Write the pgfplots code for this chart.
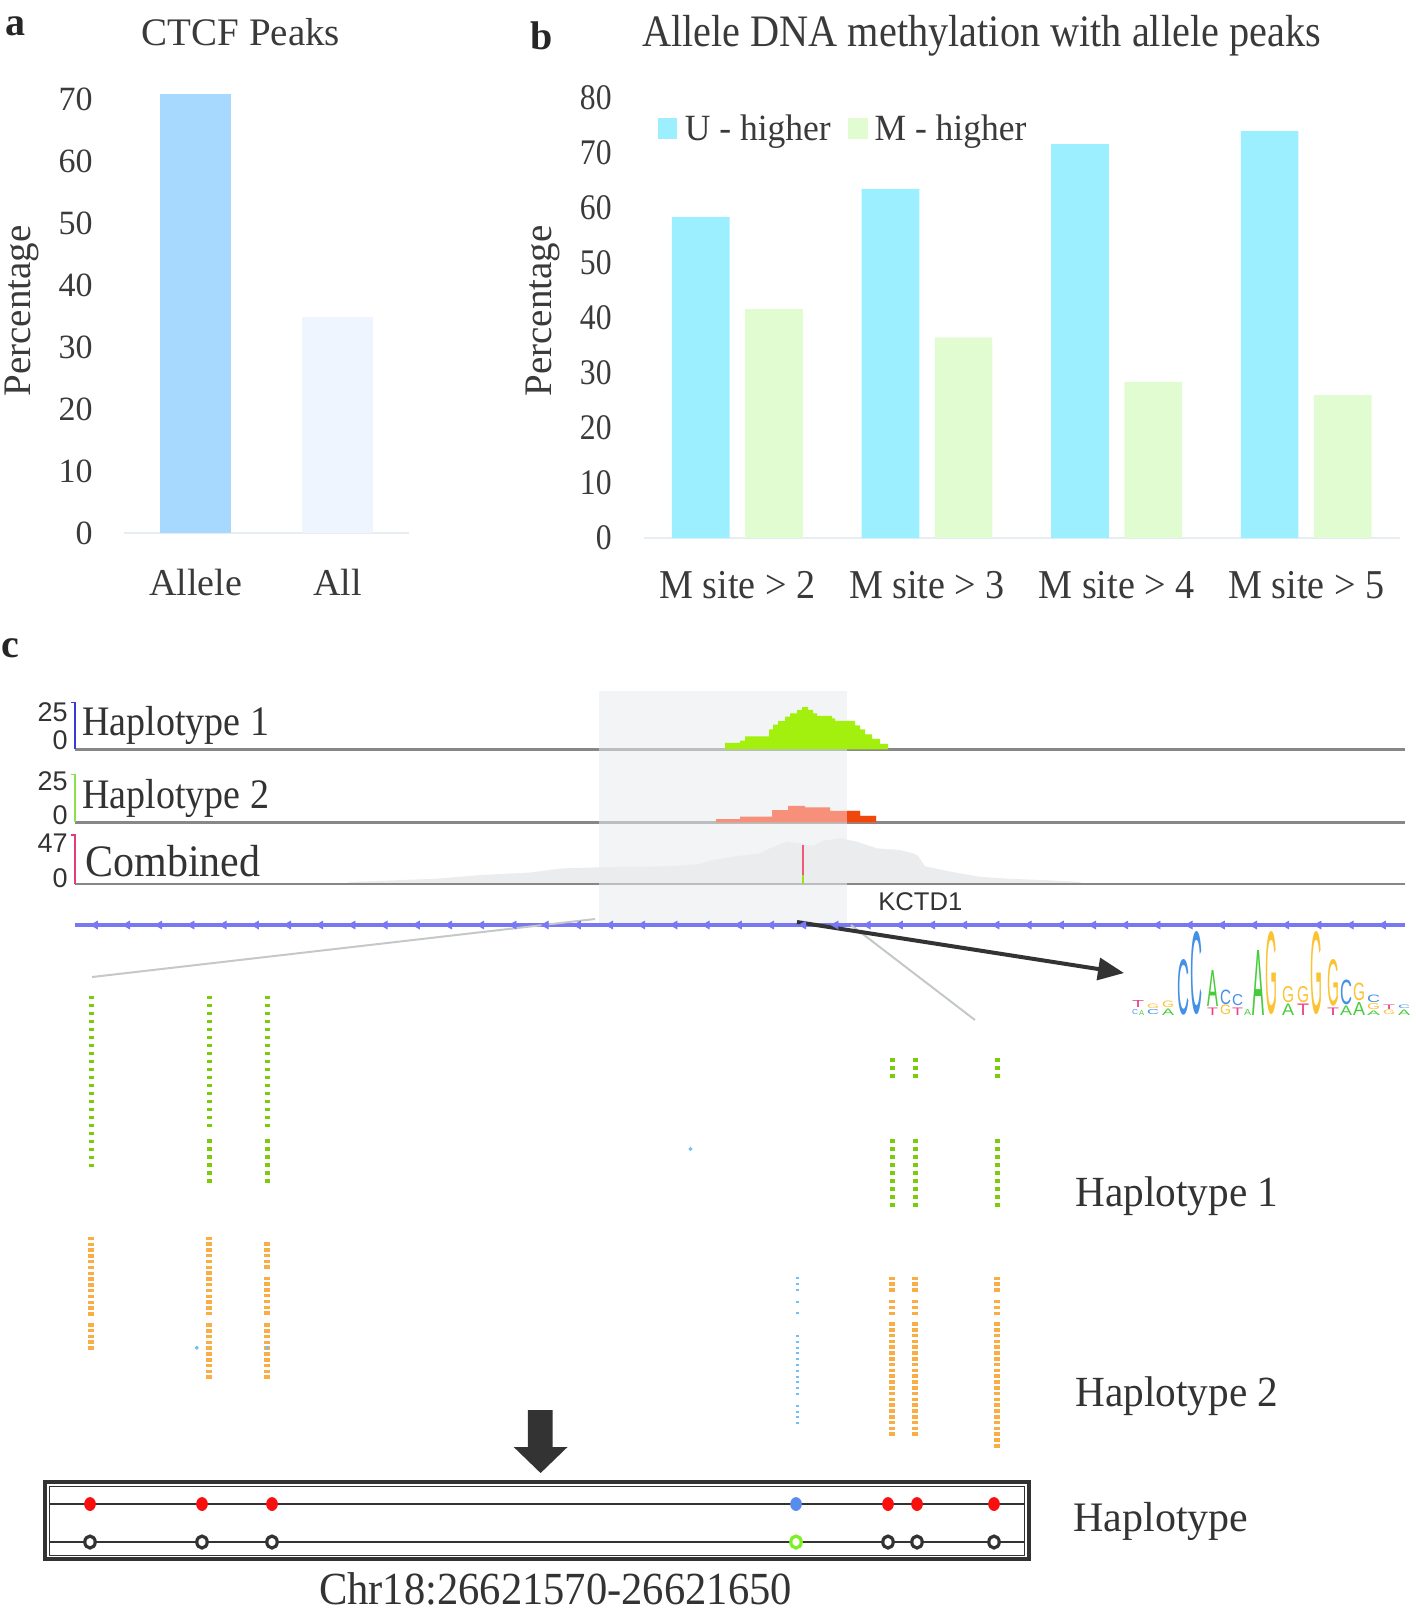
\documentclass[border=0pt]{standalone}
\usepackage{fontspec}
\setmainfont{Liberation Serif}
\newfontfamily\arial{Liberation Sans}
\usepackage{graphicx}
\usepackage{pgfplots}
\pgfplotsset{compat=1.18}
\usetikzlibrary{arrows.meta}
\definecolor{txt}{HTML}{3A3A3A}
\definecolor{allele}{HTML}{A6D9FD}
\definecolor{allc}{HTML}{EEF5FE}
\definecolor{ucol}{HTML}{9BEFFE}
\definecolor{mcol}{HTML}{E2FCD2}
\definecolor{axl}{HTML}{E6EDF3}
\definecolor{hl}{HTML}{F3F4F5}
\definecolor{basec}{HTML}{878787}
\definecolor{basel}{HTML}{BBBEBE}
\definecolor{hgreen}{HTML}{A3F00F}
\definecolor{salmon}{HTML}{F6907A}
\definecolor{redor}{HTML}{F0480C}
\definecolor{combg}{HTML}{EBECED}
\definecolor{genec}{HTML}{7878F2}
\definecolor{dgreen}{HTML}{7ACC0A}
\definecolor{dorange}{HTML}{F8AE45}
\definecolor{dblue}{HTML}{72BFF5}
\definecolor{dark}{HTML}{333333}
\definecolor{lgrey}{HTML}{C4C8C8}
\definecolor{hred}{HTML}{F81010}
\definecolor{hblue}{HTML}{5A8CEE}
\definecolor{hgr}{HTML}{7CF020}
\definecolor{tone}{HTML}{3A3AD8}
\definecolor{ttwo}{HTML}{8CE050}
\definecolor{tthree}{HTML}{E23C7C}
\definecolor{snpr}{HTML}{EE5A78}
\definecolor{snpg}{HTML}{9CE020}
\definecolor{lA}{HTML}{46CC3A}
\definecolor{lC}{HTML}{4490E4}
\definecolor{lG}{HTML}{FBC232}
\definecolor{lT}{HTML}{EA4286}
\newcommand\cond[2]{\scalebox{#1}[1]{#2}}
\newcommand\fs[1]{\fontsize{#1}{#1}\selectfont}
\newcommand\LL[6]{\node[anchor=south west, inner sep=0pt, outer sep=0pt] at (#1,#2) {\resizebox{\dimexpr #3pt/2\relax}{\dimexpr #4pt/2\relax}{\color{#5}\arial #6}};}
\pgfplotsset{
  gdot/.style={draw=dgreen, line width=2.5pt, dash pattern=on 1.65pt off 2.35pt},
  odot/.style={draw=dorange, line width=3pt, dash pattern=on 1.75pt off 1.15pt},
  bdot/.style={draw=dblue, line width=1.5pt, dash pattern=on 1pt off 1.9pt},
}
\begin{document}
\begin{tikzpicture}[x=0.5pt, y=-0.5pt]
\path[use as bounding box] (0,0) rectangle (1415,1616);

% ---------- overlay axis in pixel units (panel c lower part) ----------
\begin{axis}[at={(0pt,0pt)}, anchor=north west, scale only axis, width=707.5pt, height=808pt,
  xmin=0, xmax=1415, ymin=0, ymax=1616, y dir=reverse, hide axis, clip=false]
\fill[hl] (axis cs:599,691) rectangle (axis cs:847,924);
% gene line
\addplot[genec, line width=1.6pt] coordinates {(75,925)(1405,925)};
\addplot[only marks, mark=triangle*, mark size=2.2pt, color=genec, mark options={rotate=90}] coordinates {
(95.2,925)(127.4,925)(159.6,925)(191.8,925)(224,925)(256.2,925)(288.4,925)(320.6,925)(352.8,925)(385,925)(417.2,925)(449.4,925)(481.6,925)(513.8,925)(546,925)(578.2,925)(610.4,925)(642.6,925)(674.8,925)(707,925)(739.2,925)(771.4,925)(803.6,925)(835.8,925)(868,925)(900.2,925)(932.4,925)(964.6,925)(996.8,925)(1029,925)(1061.2,925)(1093.4,925)(1125.6,925)(1157.8,925)(1190,925)(1222.2,925)(1254.4,925)(1286.6,925)(1318.8,925)(1351,925)(1383.2,925)};
% zoom lines and arrows
\draw[lgrey, line width=1pt] (axis cs:595,919) -- (axis cs:92,977);
\draw[lgrey, line width=1pt] (axis cs:851,925) -- (axis cs:975,1020);
\draw[dark, line width=2pt, -{Triangle[length=13pt,width=11pt]}] (axis cs:797,922) -- (axis cs:1124,973);
\fill[dark] (axis cs:527.8,1410) -- (axis cs:552.6,1410) -- (axis cs:552.6,1447) -- (axis cs:567.5,1447) -- (axis cs:540.6,1473) -- (axis cs:513.7,1447) -- (axis cs:527.8,1447) -- cycle;
% green reads
\addplot[gdot] coordinates {(91,995.65)(91,1166.95)};
\addplot[gdot] coordinates {(209,995.65)(209,1126.95)};
\addplot[gdot] coordinates {(209,1139.35)(209,1182.65)};
\addplot[gdot] coordinates {(267,995.65)(267,1126.95)};
\addplot[gdot] coordinates {(267,1139.35)(267,1182.65)};
\addplot[gdot] coordinates {(892,1058.35)(892,1077.65)};
\addplot[gdot] coordinates {(892,1139.35)(892,1206.65)};
\addplot[gdot] coordinates {(915,1058.35)(915,1077.65)};
\addplot[gdot] coordinates {(915,1139.35)(915,1206.65)};
\addplot[gdot] coordinates {(997,1058.35)(997,1077.65)};
\addplot[gdot] coordinates {(997,1139.35)(997,1206.65)};
% orange reads
\addplot[odot] coordinates {(91,1236.75)(91,1315.65)};
\addplot[odot] coordinates {(91,1323)(91,1349.7)};
\addplot[odot] coordinates {(209,1236.55)(209,1315.45)};
\addplot[odot] coordinates {(209,1323.25)(209,1378.95)};
\addplot[odot] coordinates {(267,1242.25)(267,1268.95)};
\addplot[odot] coordinates {(267,1276.55)(267,1314.85)};
\addplot[odot] coordinates {(267,1323.25)(267,1378.95)};
\addplot[odot] coordinates {(892,1276.55)(892,1291.65)};
\addplot[odot] coordinates {(892,1299.95)(892,1315.05)};
\addplot[odot] coordinates {(892,1322.25)(892,1435.95)};
\addplot[odot] coordinates {(915,1276.55)(915,1291.65)};
\addplot[odot] coordinates {(915,1299.95)(915,1315.05)};
\addplot[odot] coordinates {(915,1322.25)(915,1435.95)};
\addplot[odot] coordinates {(997,1276.55)(997,1291.65)};
\addplot[odot] coordinates {(997,1299.95)(997,1315.05)};
\addplot[odot] coordinates {(997,1322.25)(997,1447.55)};
% blue reads
\addplot[bdot] coordinates {(797,1277.3)(797,1290.9)};
\addplot[bdot] coordinates {(797,1300.7)(797,1302.7)};
\addplot[bdot] coordinates {(797,1312.3)(797,1314.3)};
\addplot[bdot] coordinates {(797,1335)(797,1395)};
\addplot[bdot] coordinates {(797,1404.7)(797,1424.1)};
\addplot[only marks, mark=*, mark size=0.8pt, color=dblue] coordinates {(690.5,1149)(196.7,1347.7)(267.3,1347.7)};
% haplotype box
\draw[dark, line width=1.9pt] (axis cs:45,1482) rectangle (axis cs:1029,1559);
\draw[dark, line width=0.5pt] (axis cs:49.5,1486) rectangle (axis cs:1024.5,1555);
\addplot[dark, line width=1pt] coordinates {(49.5,1504)(1024.5,1504)};
\addplot[dark, line width=1pt] coordinates {(49.5,1542)(1024.5,1542)};
\addplot[only marks, mark=*, mark size=2.7pt, color=hred, mark options={yscale=1.2}] coordinates {(90,1504)(202,1504)(272,1504)(888,1504)(917,1504)(994,1504)};
\addplot[only marks, mark=*, mark size=2.7pt, color=hblue, mark options={yscale=1.2}] coordinates {(796,1504)};
\addplot[only marks, mark=*, mark size=2.6pt, mark options={draw=dark, fill=white, line width=1.6pt, yscale=1.15}] coordinates {(90,1542)(202,1542)(272,1542)(888,1542)(917,1542)(994,1542)};
\addplot[only marks, mark=*, mark size=2.6pt, mark options={draw=hgr, fill=white, line width=1.6pt, yscale=1.15}] coordinates {(796,1542)};
\end{axis}

% ---------- track 1 ----------
\begin{axis}[at={(37.5pt,-374.65pt)}, anchor=south west, scale only axis, width=665pt, height=23.3pt,
  xmin=75, xmax=1405, ymin=0, ymax=25, hide axis, clip=false]
\addplot[basec, line width=1.2pt] coordinates {(75,0)(1405,0)};
\addplot[basel, line width=1.2pt] coordinates {(599,0)(847,0)};
\addplot[fill=hgreen, draw=none, const plot] coordinates {(720,0)(725,3.4)(740,4.7)(745,7.0)(769,10.7)(773,13.3)(778,15.1)(785,17.5)(790,19.3)(797,21.2)(802,22.6)(808,21.2)(813,19.3)(817,17.9)(832,16.6)(835,15.3)(855,12.9)(860,10.7)(865,8.0)(872,5.6)(880,2.9)(888,2.9)} \closedcycle;
\addplot[tone, line width=0.6pt] coordinates {(71,25)(75,25)(75,0)};
\end{axis}
% ---------- track 2 ----------
\begin{axis}[at={(37.5pt,-411.15pt)}, anchor=south west, scale only axis, width=665pt, height=24pt,
  xmin=75, xmax=1405, ymin=0, ymax=25, hide axis, clip=false]
\addplot[basec, line width=1.2pt] coordinates {(75,0)(1405,0)};
\addplot[basel, line width=1.2pt] coordinates {(599,0)(847,0)};
\addplot[fill=salmon, draw=none, const plot] coordinates {(716,1.6)(740,2.9)(772,6.4)(788,8.5)(805,7.8)(830,6.0)(860,3.3)(876,3.3)} \closedcycle;
\addplot[fill=redor, draw=none, const plot] coordinates {(847,6.0)(860,3.3)(876,3.3)} \closedcycle;
\addplot[ttwo, line width=0.6pt] coordinates {(71,25)(75,25)(75,0)};
\end{axis}
% ---------- track 3 ----------
\begin{axis}[at={(37.5pt,-442pt)}, anchor=south west, scale only axis, width=665pt, height=24.5pt,
  xmin=75, xmax=1405, ymin=0, ymax=47, hide axis, clip=false]
\addplot[fill=combg, draw=none] coordinates {(345,0)(350,2)(435,5)(480,8.6)(530,11)(562,15)(600,16)(635,16.6)(670,17)(700,19)(713,23)(733,26.2)(760,29.4)(770,34.2)(787,40.6)(800,39)(813,36.4)(823,41.5)(840,43.8)(857,40.6)(877,34.2)(900,32.6)(913,29.4)(918,27)(925,17)(950,12)(979,7)(1010,5)(1043,3.8)(1080,2)(1083,0)} \closedcycle;
\addplot[basec, line width=1.2pt] coordinates {(75,0)(1405,0)};
\addplot[basel, line width=1.2pt] coordinates {(599,0)(847,0)};
\addplot[snpr, line width=1pt] coordinates {(803,8.6)(803,37.4)};
\addplot[snpg, line width=1pt] coordinates {(803,0)(803,8.6)};
\addplot[tthree, line width=0.6pt] coordinates {(71,47)(75,47)(75,0)};
\end{axis}

% ---------- panel a ----------
\begin{axis}[at={(62pt,-266.5pt)}, anchor=south west, scale only axis,
  width=142.5pt, height=223.2pt, xmin=-0.5035, xmax=1.5035, ymin=0, ymax=72,
  axis lines*=left, y axis line style={draw=none}, x axis line style={draw=axl, line width=1pt},
  major tick length=0pt, tick style={draw=none},
  ytick={0,10,20,30,40,50,60,70}, yticklabels={0,10,20,30,40,50,60,70},
  xtick={0,1}, xticklabels={Allele,All},
  yticklabel style={font=\fs{17pt}, text=txt, inner sep=0pt, anchor=east, xshift=-15.5pt},
  xticklabel style={font=\fs{19pt}, text=txt, inner sep=0pt, anchor=base, yshift=-31pt},
  ybar, bar width=0.5, clip=false]
\addplot[fill=allele, draw=none, bar shift=0] coordinates {(0,70.8)};
\addplot[fill=allc, draw=none, bar shift=0] coordinates {(1,34.8)};
\end{axis}

% ---------- panel b ----------
\begin{axis}[at={(322pt,-269pt)}, anchor=south west, scale only axis,
  width=378pt, height=220pt, xmin=-0.4926, xmax=3.4947, ymin=0, ymax=80,
  axis lines*=left, y axis line style={draw=none}, x axis line style={draw=axl, line width=1pt},
  major tick length=0pt, tick style={draw=none},
  ytick={0,10,20,30,40,50,60,70,80},
  yticklabels={\cond{0.88}{0},\cond{0.88}{10},\cond{0.88}{20},\cond{0.88}{30},\cond{0.88}{40},\cond{0.88}{50},\cond{0.88}{60},\cond{0.88}{70},\cond{0.88}{80}},
  xtick={0,1,2,3},
  xticklabels={\cond{0.93}{M site > 2},\cond{0.93}{M site > 3},\cond{0.93}{M site > 4},\cond{0.93}{M site > 5}},
  yticklabel style={font=\fs{18pt}, text=txt, inner sep=0pt, anchor=east, xshift=-16pt},
  xticklabel style={font=\fs{20.5pt}, text=txt, inner sep=0pt, anchor=base, yshift=-30pt},
  ybar, bar width=0.3043, clip=false,
  legend style={at={(0.0185,0.9283)}, anchor=west, draw=none, fill=none, inner sep=0pt, outer sep=0pt,
    legend columns=2, font=\fs{18.5pt}, text=txt, nodes={inner sep=0pt}, column sep=0pt},
  legend cell align=left]
\addplot[fill=ucol, draw=none, bar shift=-0.193, forget plot] coordinates {(0,58.4)(1,63.5)(2,71.6)(3,74.0)};
\addplot[fill=mcol, draw=none, bar shift=0.193, forget plot] coordinates {(0,41.6)(1,36.5)(2,28.4)(3,26.0)};
\addlegendimage{legend image code/.code={\fill[ucol] (0pt,-4.2pt) rectangle (9pt,5.8pt); \path (13pt,0pt);}}
\addlegendentry{\cond{0.96}{U - higher}\hspace*{8.5pt}}
\addlegendimage{legend image code/.code={\fill[mcol] (0pt,-4.2pt) rectangle (9.5pt,5.8pt); \path (13pt,0pt);}}
\addlegendentry{\cond{0.96}{M - higher}}
\end{axis}

% ---------- texts ----------
\node[anchor=base, font=\fs{20pt}\bfseries, text=black!85] at (15.5,36) {a};
\node[anchor=base, font=\fs{20pt}\bfseries, text=black!85] at (542,49.5) {b};
\node[anchor=base, font=\fs{20pt}\bfseries, text=black!85] at (10.7,657.5) {c};
\node[anchor=base, font=\fs{19.5pt}, text=txt] at (241,45.3) {CTCF Peaks};
\node[anchor=base, font=\fs{22.5pt}, text=txt] at (981.5,46.4) {\cond{0.895}{Allele DNA methylation with allele peaks}};
\node[rotate=90, font=\fs{19.5pt}, text=txt] at (21.5,311) {Percentage};
\node[rotate=90, font=\fs{19.5pt}, text=txt] at (543,311) {Percentage};
% track labels
\begin{scope}[every node/.style={anchor=east, inner sep=0pt, font=\arial\fs{13.5pt}, text=dark}]
\node at (68,711.7) {25}; \node at (68,740) {0};
\node at (68,780.7) {25}; \node at (68,815) {0};
\node at (68,843.3) {47}; \node at (68,878.3) {0};
\end{scope}
\node[anchor=base west, inner sep=0pt, font=\fs{21pt}, text=dark] at (82,735) {\cond{0.905}{Haplotype 1}};
\node[anchor=base west, inner sep=0pt, font=\fs{21pt}, text=dark] at (82,808.3) {\cond{0.905}{Haplotype 2}};
\node[anchor=base west, inner sep=0pt, font=\fs{22.5pt}, text=dark] at (85,876.7) {\cond{0.933}{Combined}};
\node[anchor=base west, inner sep=0pt, font=\arial\fs{12.8pt}, text=dark] at (878,910) {KCTD1};
\node[anchor=base west, inner sep=0pt, font=\fs{21.5pt}, text=dark] at (1075,1206.7) {\cond{0.96}{Haplotype 1}};
\node[anchor=base west, inner sep=0pt, font=\fs{21.5pt}, text=dark] at (1075,1406.7) {\cond{0.96}{Haplotype 2}};
\node[anchor=base west, inner sep=0pt, font=\fs{21pt}, text=dark] at (1073,1531.7) {Haplotype};
\node[anchor=base, inner sep=0pt, font=\fs{23pt}, text=dark] at (555.5,1604) {\cond{0.925}{Chr18:26621570-26621650}};
% motif logo
\LL{1132}{1007}{12}{7}{lT}{T}
\LL{1132}{1015}{6}{5}{lC}{C}
\LL{1139}{1015}{5}{5}{lA}{A}
\LL{1147}{1008.5}{12}{4.5}{lG}{G}
\LL{1147}{1015}{12}{5}{lC}{C}
\LL{1162}{1007.5}{12}{6.5}{lG}{G}
\LL{1162}{1015}{12}{6.5}{lA}{A}
\LL{1177}{1015}{12}{55}{lC}{C}
\LL{1190}{1015}{12}{82}{lC}{C}
\LL{1207}{1006}{11}{36}{lA}{A}
\LL{1207}{1015}{11}{7.5}{lT}{T}
\LL{1220}{1004.5}{11}{14.5}{lC}{C}
\LL{1220}{1015}{11}{9.5}{lG}{G}
\LL{1232}{1006}{11}{11}{lC}{C}
\LL{1232}{1015}{11}{7.5}{lT}{T}
\LL{1244}{1015}{7}{6}{lA}{A}
\LL{1252}{1015}{12}{65}{lA}{A}
\LL{1265}{1015}{12}{82}{lG}{G}
\LL{1282}{1002.5}{12}{16}{lG}{G}
\LL{1282}{1015}{12}{11.5}{lA}{A}
\LL{1297}{1002.5}{12}{16}{lG}{G}
\LL{1297}{1015}{12}{11.5}{lT}{T}
\LL{1310}{1015}{12}{82}{lG}{G}
\LL{1327}{1006}{12}{46}{lG}{G}
\LL{1327}{1015}{12}{7.5}{lT}{T}
\LL{1340}{1004.5}{12}{24.5}{lC}{C}
\LL{1340}{1015}{12}{9.5}{lA}{A}
\LL{1353}{1001}{12}{17.5}{lG}{G}
\LL{1353}{1015}{12}{13}{lA}{A}
\LL{1367}{1002.5}{13}{7.5}{lC}{C}
\LL{1367}{1009.5}{13}{6}{lG}{G}
\LL{1367}{1015}{13}{4.5}{lA}{A}
\LL{1383}{1009.5}{12}{4.5}{lT}{T}
\LL{1383}{1015}{12}{4.5}{lG}{G}
\LL{1398}{1008.5}{12}{3.5}{lC}{C}
\LL{1398}{1015}{12}{5.5}{lA}{A}
\end{tikzpicture}
\end{document}
